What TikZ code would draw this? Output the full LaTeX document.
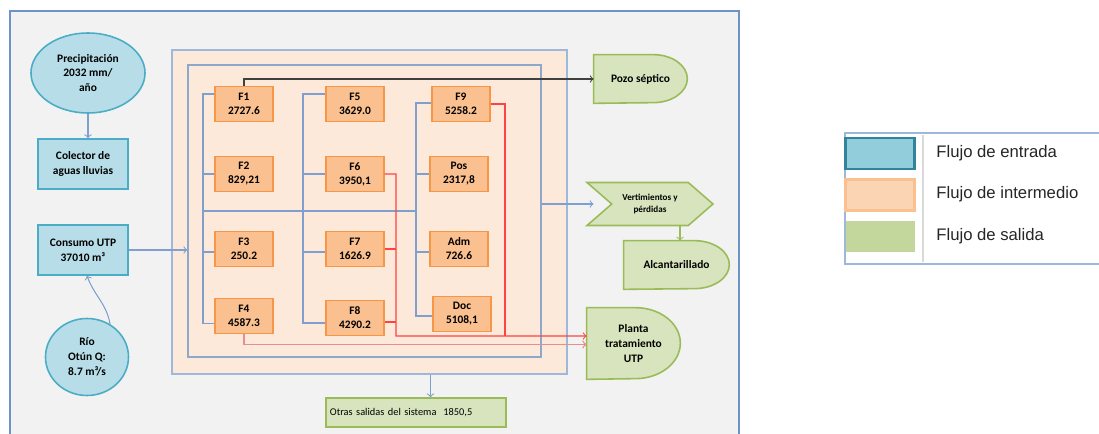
\documentclass[tikz,border=0pt]{standalone}
\usepackage{fontspec}
\setmainfont{Carlito}
\newfontfamily\leyendafont{Liberation Sans}
\usetikzlibrary{shapes.geometric,shapes.symbols,backgrounds,calc}

\definecolor{fondo}{HTML}{F2F2F2}
\definecolor{bordepanel}{HTML}{6F93C8}
\definecolor{rellenoregion}{HTML}{FDE9D9}
\definecolor{borderegion}{HTML}{9DB8DB}
\definecolor{bordeinterno}{HTML}{8EA8CC}
\definecolor{bus}{HTML}{7FA0CF}
\definecolor{rellenoentrada}{HTML}{B7DEE8}
\definecolor{bordeentrada}{HTML}{4BACC6}
\definecolor{rellenocaja}{HTML}{FAC090}
\definecolor{bordecaja}{HTML}{F79646}
\definecolor{rellenosalida}{HTML}{D7E4BD}
\definecolor{bordesalida}{HTML}{9BBB59}
\definecolor{rojo}{HTML}{FF4343}
\definecolor{rosa}{HTML}{E88C8C}
\definecolor{negro}{HTML}{404040}
\definecolor{azulleyenda}{HTML}{92CDDC}
\definecolor{bordeleyenda}{HTML}{31849B}
\definecolor{naranjaleyenda}{HTML}{FBD4B4}
\definecolor{verdeleyenda}{HTML}{C3D69B}

\tikzset{
  entrada/.style={draw=bordeentrada, fill=rellenoentrada, line width=0.9pt, inner sep=1pt,
    align=center, font=\fontsize{6.5}{8.5}\selectfont\bfseries},
  caja/.style={draw=bordecaja, fill=rellenocaja, line width=0.8pt, minimum width=11.6mm,
    minimum height=7mm, inner sep=0.5pt, align=center, font=\fontsize{6.5}{8}\selectfont\bfseries},
  salida/.style={draw=bordesalida, fill=rellenosalida, line width=0.9pt},
  salidatexto/.style={inner sep=1pt, align=center, font=\fontsize{6.5}{8.5}\selectfont\bfseries},
  flecha/.style={draw=bus, line width=0.6pt, ->},
  bus/.style={draw=bus, line width=0.6pt},
  rojolinea/.style={draw=rojo, line width=0.6pt},
  swatch/.style={minimum width=13.8mm, minimum height=6.2mm, inner sep=0pt},
  leyenda/.style={anchor=west, inner sep=0pt, text=black!85, font=\leyendafont\fontsize{9.5}{11}\selectfont}
}

\begin{document}
\begin{tikzpicture}[x=0.2mm, y=-0.2mm]
\useasboundingbox (0,0) rectangle (1099,434);

\begin{scope}[on background layer]
\fill[fondo] (10,11) rectangle (739,445);
\draw[bordepanel, line width=1.1pt] (10,445) -- (10,11) -- (739,11) -- (739,445);
\fill[white] (845,133) rectangle (1110,264);
\draw[borderegion, line width=0.8pt] (1110,133) -- (845,133) -- (845,264) -- (1110,264);
\draw[black!15, line width=0.6pt] (923,135) -- (923,262);
\end{scope}

% entradas
\node[entrada, ellipse, minimum width=22.8mm, minimum height=16mm] (precip) at (88,73) {Precipitación\\2032 mm/\\año};
\node[entrada, minimum width=18mm, minimum height=10mm] (colector) at (83,164) {Colector de\\aguas lluvias};
\node[entrada, minimum width=18mm, minimum height=10mm] (consumo) at (83,250) {Consumo UTP\\37010 m³};
\node[entrada, ellipse, minimum width=16.6mm, minimum height=15.4mm] (rio) at (87,357) {Río\\Otún Q:\\8.7 m³/s};

% sistema
\node[draw=borderegion, fill=rellenoregion, line width=1pt, minimum width=79mm, minimum height=64.8mm] (region) at (369.5,212) {};
\node[draw=bordeinterno, line width=0.8pt, minimum width=70.6mm, minimum height=58.4mm] (interno) at (364.5,211) {};

\node[caja] (f1) at (244,104) {F1\\2727.6};
\node[caja] (f2) at (244,174) {F2\\829,21};
\node[caja] (f3) at (244,249) {F3\\250.2};
\node[caja] (f4) at (244,316) {F4\\4587.3};
\node[caja] (f5) at (355,104) {F5\\3629.0};
\node[caja] (f6) at (355,174) {F6\\3950,1};
\node[caja] (f7) at (355,249) {F7\\1626.9};
\node[caja] (f8) at (355,318) {F8\\4290.2};
\node[caja] (f9) at (461,104) {F9\\5258.2};
\node[caja] (pos) at (459,174) {Pos\\2317,8};
\node[caja] (adm) at (459,249) {Adm\\726.6};
\node[caja] (doc) at (462,314) {Doc\\5108,1};

% salidas
\node[salidatexto, minimum width=18.6mm, minimum height=9.6mm] (pozo) at (640.5,79) {Pozo séptico};
\node[salida, signal, signal from=west, signal to=east, signal pointer angle=82,
  minimum width=25.2mm, minimum height=8.6mm, inner sep=0pt, align=center,
  font=\fontsize{5.2}{6.5}\selectfont\bfseries] (vert) at (650,204) {Vertimientos y\\pérdidas};
\node[salidatexto, minimum width=21mm, minimum height=9.6mm] (alc) at (676.5,265) {Alcantarillado};
\node[salidatexto, minimum width=18.6mm, minimum height=14.2mm] (planta) at (633.5,343.5) {Planta\\tratamiento\\UTP};
\node[draw=bordesalida, fill=rellenosalida, line width=0.8pt, minimum width=36mm, minimum height=5.8mm,
  text width=34.4mm, inner xsep=0.8mm, align=left, font=\fontsize{5.9}{7}\selectfont] (otras) at (416,412.5) {Otras salidas del sistema\ \ 1850,5};

\begin{scope}[on background layer]
\draw[salida] (pozo.south west) -- (pozo.north west) -- ([xshift=-6.8mm]pozo.north east)
  arc[start angle=90, end angle=-90, x radius=6.8mm, y radius=4.8mm] -- cycle;
\draw[salida] (alc.south west) -- (alc.north west) -- ([xshift=-7mm]alc.north east)
  arc[start angle=90, end angle=-90, x radius=7mm, y radius=4.8mm] -- cycle;
\draw[salida] (planta.south west) -- (planta.north west) -- ([xshift=-9mm]planta.north east)
  arc[start angle=90, end angle=-90, x radius=9mm, y radius=7.1mm] -- cycle;
\end{scope}

% flujos de entrada
\draw[flecha] (precip.south) -- (precip.south |- colector.north);
\draw[flecha] (rio.55) to[out=100, in=-70] ([xshift=0.8mm]consumo.south);
\draw[flecha] (consumo.east) -- (consumo.east -| interno.west);

% distribucion interna
\coordinate (col1) at (203,211);
\coordinate (col2) at (303,211);
\coordinate (col3) at (416,211);
\draw[bus] (col1) -- (col3);
\draw[bus] ([yshift=2mm]f1.west) -| (col1) |- ([yshift=-1.5mm]f4.west);
\draw[bus] (f2.west) -- (f2.west -| col1);
\draw[bus] ([yshift=-0.6mm]f3.west) -- ([yshift=-0.6mm]f3.west -| col1);
\draw[bus] ([yshift=2mm]f5.west) -| (col2) |- ([yshift=-1mm]f8.west);
\draw[bus] (f6.west) -- (f6.west -| col2);
\draw[bus] ([yshift=-0.6mm]f7.west) -- ([yshift=-0.6mm]f7.west -| col2);
\draw[bus] ([yshift=0.2mm]f9.west) -| (col3) |- ([yshift=-0.4mm]doc.west);
\draw[bus] (pos.west) -- (pos.west -| col3);
\draw[bus] ([yshift=-0.6mm]adm.west) -- ([yshift=-0.6mm]adm.west -| col3);

% flujos de salida
\draw[negro, line width=0.6pt, ->] (f1.north) |- (pozo.west);
\draw[flecha] (interno.east |- vert.west) -- ([xshift=-3.4mm]vert.west);
\draw[bordesalida, line width=0.6pt, ->] ([xshift=0.7mm]alc.north |- vert.south) -- ([xshift=0.7mm]alc.north);
\coordinate (r1) at (396,336);
\coordinate (r2) at (505,336);
\draw[rojolinea, ->] (f6.east) -| (r1) -- ([yshift=1.5mm]planta.west);
\draw[rojolinea] (f7.east) -- (f7.east -| r1);
\draw[rojolinea] ([yshift=-0.8mm]f8.east) -- ([yshift=-0.8mm]f8.east -| r1);
\draw[rojolinea] (f9.east) -| (r2);
\draw[rosa, line width=0.75pt, ->] (f4.south) |- ([yshift=-0.2mm]planta.west);
\coordinate (bajada) at ($(otras.north west)!0.58!(otras.north east)$);
\draw[flecha] (bajada |- region.south) -- (bajada);

% leyenda
\node[swatch, draw=bordeleyenda, line width=1.2pt, fill=azulleyenda] (sw1) at (880,153.5) {};
\node[swatch, draw=rellenocaja, line width=1.2pt, fill=naranjaleyenda] (sw2) at (880,195) {};
\node[swatch, fill=verdeleyenda] (sw3) at (880,237) {};
\node[leyenda] (t1) at (936,153) {Flujo de entrada};
\node[leyenda] (t2) at (936,194) {Flujo de intermedio};
\node[leyenda] (t3) at (936,236) {Flujo de salida};
\end{tikzpicture}
\end{document}
